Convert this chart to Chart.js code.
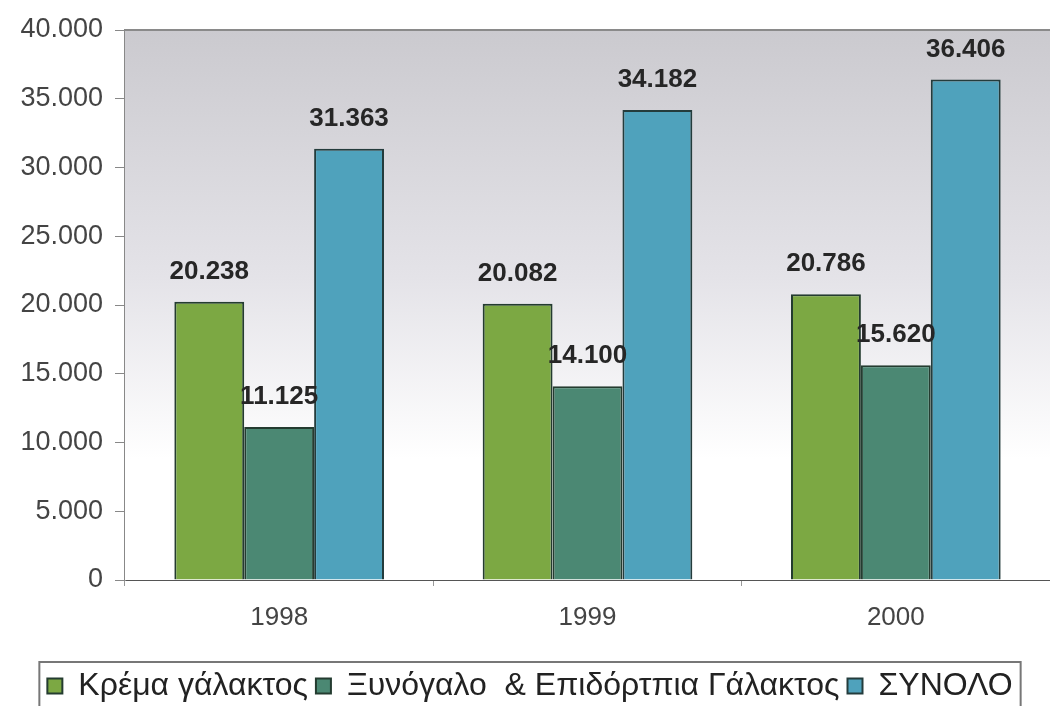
<!DOCTYPE html>
<html>
<head>
<meta charset="utf-8">
<script src="https://cdn.jsdelivr.net/npm/chart.js@4"></script>
<style>
  html, body { margin: 0; padding: 0; background: #fff; }
  #wrap { width: 1050px; height: 706px; }
</style>
</head>
<body>
<div id="wrap"><canvas id="milkChart" width="1050" height="706"></canvas></div>
<script>
const years = ['1998', '1999', '2000'];
const kremaValues = [20238, 20082, 20786];
const xynogaloValues = [11125, 14100, 15620];
const synoloValues = [31363, 34182, 36406];
const seriesNames = ['Κρέμα γάλακτος', 'Ξυνόγαλο  & Επιδόρτπια Γάλακτος', 'ΣΥΝΟΛΟ'];
const yMax = 40000;
const yStep = 5000;

const fmt = v => String(v).replace(/\B(?=(\d{3})+(?!\d))/g, '.');
const FONT = '"Liberation Sans", Arial, sans-serif';

// gray-to-white background inside plot area + top border
const plotBg = {
  id: 'plotBg',
  beforeDatasetsDraw(chart) {
    const { ctx, chartArea: a } = chart;
    const g = ctx.createLinearGradient(0, a.top, 0, a.bottom);
    g.addColorStop(0, '#cbcacf');
    g.addColorStop(0.45, '#e4e3e8');
    g.addColorStop(0.78, '#ffffff');
    g.addColorStop(1, '#ffffff');
    ctx.save();
    ctx.fillStyle = g;
    ctx.fillRect(a.left, a.top, a.right - a.left, a.bottom - a.top);
    ctx.strokeStyle = '#8a8a8a';
    ctx.lineWidth = 2;
    ctx.beginPath();
    ctx.moveTo(a.left, a.top);
    ctx.lineTo(a.right, a.top);
    ctx.stroke();
    ctx.restore();
  }
};

// value labels above bars
const valueLabels = {
  id: 'valueLabels',
  afterDatasetsDraw(chart) {
    const { ctx } = chart;
    ctx.save();
    ctx.font = 'bold 26px ' + FONT;
    ctx.fillStyle = '#262626';
    ctx.textAlign = 'center';
    ctx.textBaseline = 'middle';
    chart.data.datasets.forEach((ds, i) => {
      chart.getDatasetMeta(i).data.forEach((bar, j) => {
        ctx.fillText(fmt(ds.data[j]), bar.x, bar.y - 30);
      });
    });
    ctx.restore();
  }
};

// frame around legend
const legendFrame = {
  id: 'legendFrame',
  afterDraw(chart) {
    const lg = chart.legend;
    if (!lg || !lg.legendHitBoxes.length) return;
    const boxes = lg.legendHitBoxes;
    const x0 = Math.min(...boxes.map(b => b.left)) - 8;
    const x1 = Math.max(...boxes.map(b => b.left + b.width)) + 8;
    const y0 = Math.min(...boxes.map(b => b.top)) - 8;
    const { ctx } = chart;
    ctx.save();
    ctx.strokeStyle = '#777';
    ctx.lineWidth = 2;
    ctx.strokeRect(x0, y0, x1 - x0, 80);
    ctx.restore();
  }
};

const ctx = document.getElementById('milkChart').getContext('2d');
new Chart(ctx, {
  type: 'bar',
  data: {
    labels: years,
    datasets: [
      { label: seriesNames[0], data: kremaValues, backgroundColor: '#7ca843', borderColor: '#243c30', borderWidth: 2 },
      { label: seriesNames[1], data: xynogaloValues, backgroundColor: '#4b8873', borderColor: '#243c30', borderWidth: 2 },
      { label: seriesNames[2], data: synoloValues, backgroundColor: '#4fa2bc', borderColor: '#243c3c', borderWidth: 2 },
    ]
  },
  options: {
    animation: false,
    responsive: false,
    layout: { padding: { left: 10, top: 30, right: 0, bottom: -6 } },
    datasets: { bar: { barPercentage: 1, categoryPercentage: 0.68 } },
    scales: {
      x: {
        grid: { display: true, drawOnChartArea: false, offset: true, color: '#999', tickLength: 6 },
        border: { display: true, color: '#555', width: 2 },
        ticks: { color: '#444', font: { family: FONT, size: 26 }, padding: 16 },
        afterFit(scale) { scale.height = 82; }
      },
      y: {
        min: 0,
        max: yMax,
        grid: { display: true, drawOnChartArea: false, color: '#888', tickLength: 10 },
        border: { display: true, color: '#888', width: 2 },
        ticks: {
          stepSize: yStep,
          color: '#444',
          padding: 12,
          font: { family: FONT, size: 27 },
          callback: v => fmt(v)
        },
        afterFit(scale) { scale.width = 115; }
      }
    },
    plugins: {
      legend: {
        position: 'bottom',
        labels: {
          color: '#222',
          boxWidth: 15,
          boxHeight: 15,
          padding: 8,
          font: { family: FONT, size: 32 }
        }
      },
      tooltip: { enabled: false }
    }
  },
  plugins: [plotBg, valueLabels, legendFrame]
});
</script>
</body>
</html>
